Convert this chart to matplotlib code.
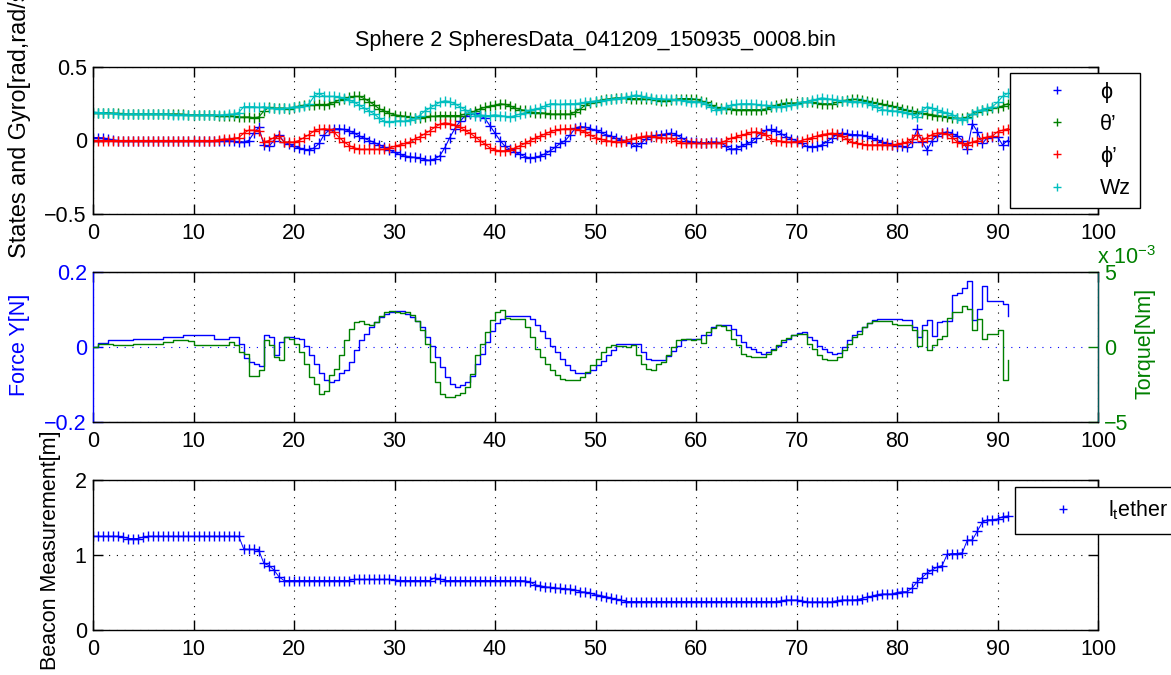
import numpy as np
import matplotlib
matplotlib.use('Agg')
import matplotlib.pyplot as plt
from matplotlib.lines import Line2D

plt.rcParams['font.family'] = ['Liberation Sans', 'DejaVu Sans']
plt.rcParams['mathtext.fontset'] = 'custom'
plt.rcParams['mathtext.rm'] = 'Liberation Sans'
plt.rcParams['mathtext.it'] = 'Liberation Sans'

#------------------------------------------------------------------ data
title = 'Sphere 2 SpheresData_041209_150935_0008.bin'
dt = 0.5  # sample period [s]

# states and gyro [rad, rad/s]
phi = [0.02,0.02,0.018,0.01,0.005,0,0,0,0,0,0,0,0,0,0,0,0,0,0,0,
       0,0,0,0,0,0,0,0,-0.005,-0.01,-0.01,0.0,0.05,0.09,-0.03,-0.04,0.0,0.04,-0.01,-0.025,
       -0.04,-0.05,-0.06,-0.065,-0.05,-0.02,0.04,0.07,0.08,0.08,0.075,0.065,0.05,0.03,0.015,0.0,-0.015,-0.03,-0.045,-0.065,
       -0.08,-0.095,-0.105,-0.11,-0.115,-0.12,-0.13,-0.135,-0.125,-0.105,-0.05,0.02,0.08,0.13,0.165,0.18,0.185,0.17,0.15,0.1,
       0.05,0.0,-0.04,-0.06,-0.08,-0.095,-0.11,-0.12,-0.115,-0.105,-0.09,-0.07,-0.045,-0.02,0.0,0.04,0.085,0.095,0.09,0.08,
       0.07,0.055,0.04,0.03,0.015,0.005,0.0,-0.02,-0.04,-0.02,0.01,0.025,0.035,0.04,0.045,0.05,0.04,0.02,0.0,-0.01,
       -0.01,-0.015,-0.015,-0.01,-0.01,-0.015,-0.04,-0.06,-0.055,-0.04,-0.025,-0.01,0.02,0.05,0.07,0.075,0.065,0.045,0.025,0.01,
       0.0,-0.02,-0.04,-0.045,-0.04,-0.03,-0.01,0.015,0.04,0.05,0.045,0.04,0.04,0.035,0.03,0.015,0.005,-0.01,-0.02,-0.03,
       -0.035,-0.04,-0.045,-0.01,0.075,-0.01,-0.065,0.0,0.03,0.05,0.06,0.045,0.03,0.0,-0.06,0.115,0.06,-0.02,0.02,0.026,
       0.026,-0.03,0.0]
theta_d = [0.185,0.185,0.19,0.19,0.185,0.185,0.18,0.18,0.18,0.18,0.18,0.18,0.18,0.18,0.18,0.18,0.18,0.18,0.178,0.175,
           0.175,0.173,0.173,0.173,0.173,0.17,0.17,0.17,0.165,0.16,0.16,0.16,0.155,0.16,0.2,0.225,0.22,0.22,0.22,0.215,
           0.225,0.235,0.24,0.24,0.24,0.245,0.24,0.25,0.26,0.275,0.285,0.295,0.3,0.3,0.285,0.265,0.24,0.215,0.2,0.185,
           0.175,0.17,0.165,0.16,0.155,0.155,0.16,0.165,0.165,0.17,0.17,0.17,0.17,0.17,0.18,0.19,0.2,0.215,0.225,0.235,
           0.24,0.25,0.245,0.235,0.22,0.21,0.205,0.195,0.19,0.19,0.185,0.18,0.18,0.18,0.18,0.18,0.195,0.215,0.24,0.255,
           0.265,0.275,0.28,0.285,0.29,0.29,0.29,0.285,0.285,0.285,0.28,0.28,0.275,0.27,0.27,0.275,0.28,0.285,0.285,0.285,
           0.28,0.27,0.26,0.24,0.225,0.22,0.215,0.215,0.21,0.21,0.21,0.21,0.21,0.21,0.215,0.225,0.24,0.25,0.255,0.255,
           0.255,0.26,0.26,0.26,0.255,0.25,0.25,0.25,0.26,0.27,0.275,0.28,0.28,0.275,0.27,0.26,0.255,0.245,0.24,0.235,
           0.225,0.215,0.205,0.2,0.19,0.185,0.18,0.175,0.17,0.165,0.16,0.155,0.15,0.15,0.16,0.18,0.195,0.205,0.21,0.22,
           0.225,0.235,0.25]
phi_d = [0,0,0,0,0,0,0,0,0,0,0,0,0,0,0,0,0,0,0,0,
         0,0,0,0,0,0.005,0.01,0.01,0.015,0.02,0.05,0.07,0.07,0.065,-0.01,0.0,0.02,0.03,-0.01,-0.01,
         -0.01,0.0,0.02,0.04,0.065,0.075,0.08,0.075,0.055,0.02,-0.01,-0.035,-0.05,-0.06,-0.06,-0.06,-0.06,-0.06,-0.06,-0.05,
         -0.04,-0.03,-0.02,-0.01,0.01,0.025,0.045,0.065,0.09,0.11,0.12,0.115,0.105,0.09,0.07,0.05,0.026,0.0,-0.025,-0.05,
         -0.065,-0.07,-0.07,-0.065,-0.05,-0.035,-0.02,0.0,0.015,0.03,0.045,0.06,0.07,0.075,0.08,0.08,0.075,0.07,0.055,0.035,
         0.02,0.01,0.0,-0.005,-0.01,-0.01,0.0,0.01,0.02,0.025,0.03,0.03,0.025,0.02,0.015,0.015,0.0,-0.015,-0.02,-0.02,
         -0.02,-0.02,-0.02,-0.02,-0.02,-0.015,0.0,0.015,0.025,0.035,0.045,0.055,0.06,0.05,0.035,0.01,0.0,-0.005,-0.01,-0.01,
         -0.01,0.0,0.01,0.02,0.03,0.04,0.045,0.05,0.045,0.03,0.01,-0.01,-0.02,-0.025,-0.03,-0.03,-0.03,-0.03,-0.03,-0.03,
         -0.025,-0.02,-0.01,0.01,0.04,0.0,0.02,0.04,0.05,0.05,0.045,0.02,-0.01,-0.02,-0.03,-0.01,0.0,0.015,0.025,0.03,
         0.06,0.07,0.08]
wz = [0.195,0.19,0.19,0.185,0.185,0.18,0.18,0.18,0.18,0.18,0.18,0.18,0.18,0.18,0.18,0.18,0.175,0.175,0.175,0.175,
      0.173,0.173,0.173,0.173,0.173,0.173,0.175,0.178,0.18,0.19,0.23,0.23,0.23,0.225,0.23,0.22,0.22,0.215,0.22,0.22,
      0.23,0.23,0.235,0.25,0.3,0.32,0.3,0.3,0.3,0.295,0.29,0.275,0.26,0.24,0.22,0.2,0.18,0.15,0.13,0.125,
      0.13,0.135,0.13,0.14,0.15,0.17,0.2,0.22,0.24,0.26,0.27,0.265,0.25,0.23,0.21,0.19,0.17,0.175,0.17,0.17,
      0.175,0.17,0.165,0.16,0.17,0.18,0.19,0.205,0.215,0.22,0.235,0.25,0.25,0.245,0.25,0.25,0.25,0.255,0.26,0.265,
      0.27,0.27,0.275,0.28,0.285,0.29,0.295,0.3,0.31,0.3,0.295,0.29,0.285,0.285,0.28,0.28,0.275,0.275,0.27,0.265,
      0.265,0.26,0.245,0.225,0.21,0.215,0.225,0.24,0.245,0.25,0.25,0.25,0.245,0.24,0.24,0.235,0.23,0.23,0.235,0.24,
      0.25,0.26,0.265,0.275,0.28,0.29,0.285,0.28,0.275,0.27,0.27,0.265,0.265,0.26,0.255,0.24,0.225,0.21,0.205,0.2,
      0.2,0.195,0.19,0.18,0.16,0.2,0.23,0.22,0.205,0.195,0.19,0.175,0.155,0.14,0.15,0.18,0.2,0.21,0.22,0.23,
      0.26,0.3,0.32]

# force Y [N] and torque [1e-3 Nm]
force = [0.0,0.011,0.011,0.02,0.02,0.02,0.02,0.02,0.022,0.022,0.022,0.022,0.022,0.022,0.027,0.027,0.027,0.027,0.031,0.031,
         0.031,0.031,0.031,0.031,0.022,0.022,0.022,0.028,0.026,0.009,-0.03,-0.04,-0.045,-0.05,0.031,0.027,-0.022,0.013,0.028,0.027,
         0.025,0.022,0.004,-0.022,-0.045,-0.07,-0.089,-0.093,-0.089,-0.07,-0.062,-0.04,-0.009,0.018,0.036,0.053,0.067,0.08,0.087,0.093,
         0.095,0.095,0.089,0.08,0.069,0.053,0.028,0.004,-0.027,-0.053,-0.08,-0.098,-0.107,-0.102,-0.093,-0.076,-0.044,-0.018,0.013,0.044,
         0.064,0.076,0.082,0.084,0.084,0.084,0.084,0.076,0.058,0.044,0.025,0.004,-0.013,-0.031,-0.049,-0.062,-0.069,-0.069,-0.069,-0.06,
         -0.049,-0.037,-0.022,-0.009,0.009,0.009,0.009,0.009,0.009,-0.013,-0.031,-0.034,-0.034,-0.034,-0.025,-0.011,0.004,0.018,0.022,0.022,
         0.022,0.031,0.031,0.053,0.058,0.058,0.058,0.049,0.031,0.013,0.0,-0.004,-0.013,-0.018,-0.013,-0.004,0.004,0.013,0.022,0.031,
         0.037,0.04,0.027,0.018,0.004,-0.004,-0.013,-0.018,-0.016,0.0,0.018,0.031,0.044,0.053,0.064,0.071,0.076,0.076,0.076,0.076,
         0.076,0.071,0.071,0.053,0.028,0.058,0.073,0.03,0.067,0.07,0.07,0.138,0.144,0.158,0.176,0.073,0.102,0.164,0.122,0.122,
         0.122,0.116,0.082]
torque = [0.0,0.22,0.22,0.18,0.11,0.11,0.11,0.11,0.18,0.18,0.18,0.18,0.18,0.18,0.33,0.33,0.44,0.44,0.44,0.4,
          0.11,0.11,0.11,0.11,0.11,0.11,0.15,0.33,0.11,-0.33,-0.44,-1.96,-1.9,-1.55,0.44,0.11,-0.67,-0.84,0.67,0.55,
          0.22,-0.33,-1.1,-2.0,-2.44,-3.1,-2.9,-1.84,-1.44,-0.56,0.44,1.22,1.67,1.73,1.56,1.44,1.67,2.04,2.33,2.4,
          2.36,2.27,2.33,2.11,1.73,1.11,0.22,-1.0,-2.33,-3.11,-3.33,-3.3,-3.2,-3.07,-2.67,-1.78,-0.56,0.22,1.0,1.78,
          2.33,2.5,1.96,1.89,1.89,1.89,1.33,0.67,-0.11,-0.67,-1.11,-1.56,-1.89,-2.11,-2.22,-2.22,-2.22,-2.0,-1.67,-1.22,
          -0.78,-0.33,0.0,0.11,0.05,0.05,0.0,0.11,-0.56,-1.11,-1.44,-1.56,-1.11,-1.0,-0.56,0.0,0.44,0.56,0.56,0.44,
          0.56,0.27,1.0,1.29,1.44,1.4,1.11,0.56,0.11,-0.44,-0.62,-0.67,-0.67,-0.67,-0.49,-0.18,0.11,0.44,0.62,0.78,
          0.89,0.89,0.22,-0.11,-0.56,-0.78,-0.89,-0.89,-0.67,-0.22,0.22,0.67,0.89,1.33,1.6,1.73,1.73,1.73,1.73,1.56,
          1.44,1.44,1.44,1.11,0.04,1.11,-0.22,0.11,0.56,0.71,1.96,2.33,2.33,2.71,2.56,1.11,1.89,0.56,0.89,0.89,
          1.11,-2.22,-0.89]

# beacon (tether length) [m]
tether = [1.25,1.25,1.25,1.25,1.25,1.25,1.24,1.22,1.22,1.22,1.24,1.25,1.25,1.25,1.25,1.25,1.25,1.25,1.25,1.25,
          1.25,1.25,1.25,1.25,1.25,1.25,1.25,1.25,1.25,1.25,1.08,1.075,1.075,1.06,0.89,0.86,0.8,0.71,0.66,0.66,
          0.66,0.66,0.66,0.66,0.66,0.66,0.66,0.66,0.66,0.66,0.66,0.66,0.675,0.675,0.675,0.675,0.675,0.675,0.675,0.675,
          0.665,0.66,0.66,0.66,0.66,0.66,0.66,0.66,0.695,0.68,0.66,0.66,0.66,0.66,0.66,0.66,0.66,0.66,0.66,0.66,
          0.66,0.66,0.66,0.66,0.66,0.66,0.655,0.64,0.6,0.59,0.575,0.57,0.56,0.555,0.55,0.545,0.535,0.51,0.505,0.49,
          0.47,0.46,0.445,0.43,0.41,0.4,0.38,0.38,0.38,0.38,0.38,0.38,0.38,0.38,0.38,0.38,0.38,0.38,0.38,0.38,
          0.38,0.38,0.38,0.38,0.38,0.38,0.38,0.38,0.38,0.38,0.38,0.38,0.38,0.38,0.38,0.38,0.38,0.39,0.4,0.4,
          0.4,0.39,0.375,0.375,0.375,0.375,0.375,0.375,0.39,0.4,0.4,0.4,0.405,0.42,0.44,0.45,0.47,0.48,0.48,0.48,
          0.5,0.51,0.51,0.56,0.64,0.7,0.76,0.8,0.84,0.86,1.01,1.02,1.02,1.03,1.2,1.2,1.32,1.44,1.47,1.47,
          1.48,1.51,1.52]

state_labels = ['\u03d5', '\u03b8\u2019', '\u03d5\u2019', 'Wz']
xticks = [0, 10, 20, 30, 40, 50, 60, 70, 80, 90, 100]
#-------------------------------------------------------------------------------

BLUE, GREEN, RED, CYAN = (0, 0, 1), (0, 0.5, 0), (1, 0, 0), (0, 0.75, 0.75)
FS = 15.5
W, H = 1171.0, 675.0

def tt(y):
    return np.arange(len(y)) * dt

def box(l, t, r, b):
    return [l / W, 1 - b / H, (r - l) / W, (b - t) / H]

def matlabify(ax, ygrid=True):
    ax.set_xlim(0, 100)
    ax.set_xticks(xticks)
    ax.tick_params(direction='in', top=True, right=True, length=7, width=1,
                   labelsize=FS, pad=4.5)
    ax.tick_params(axis='x', pad=6.5)
    for s in ax.spines.values():
        s.set_linewidth(1.0)
    ax.xaxis.grid(True, color='k', linestyle=(0, (1, 6)), linewidth=0.8)
    ax.yaxis.grid(ygrid, color='k', linestyle=(0, (1, 6)), linewidth=0.8)

fig = plt.figure(figsize=(11.71, 6.75), dpi=100)

# ---- top: states and gyro
ax1 = fig.add_axes(box(93, 67, 1098, 214))
for y, c in zip([phi, theta_d, phi_d, wz], [BLUE, GREEN, RED, CYAN]):
    ax1.plot(tt(y), y, '-+', color=c, lw=0.8, ms=7, mew=1)
matlabify(ax1)
ax1.set_ylim(-0.5, 0.5)
ax1.set_yticks([-0.5, 0, 0.5])
ax1.set_yticklabels(['\u22120.5', '0', '0.5'])
ax1.set_title(title, fontsize=FS, pad=15)
handles = [Line2D([], [], ls='none', marker='+', ms=6, mew=1, color=c)
           for c in [BLUE, GREEN, RED, CYAN]]
leg = ax1.legend(handles, state_labels, loc='upper left', bbox_to_anchor=(0.912, 0.959),
                 borderaxespad=0, fontsize=FS, handlelength=3.6, handletextpad=0.2,
                 borderpad=0.4, labelspacing=0.52, fancybox=False, framealpha=1,
                 edgecolor='k')
leg.get_frame().set_linewidth(1.0)
fig.text(20 / W, 1 - 258 / H, 'States and Gyro[rad,rad/s]', rotation=90,
         ha='center', va='bottom', fontsize=16.8)

# ---- middle: force and torque
ax2 = fig.add_axes(box(93, 272, 1098, 422))
ax2.plot(tt(force), force, color=BLUE, lw=1, drawstyle='steps-post')
matlabify(ax2, ygrid=False)
ax2.yaxis.grid(True, color=BLUE, linestyle=(0, (1, 6)), linewidth=0.8)
ax2.tick_params(axis='y', right=False, colors=BLUE)
ax2.set_ylim(-0.2, 0.2)
ax2.set_yticks([-0.2, 0, 0.2])
ax2.set_yticklabels(['\u22120.2', '0', '0.2'])
ax2.spines['left'].set_color(BLUE)
ax2r = ax2.twinx()
ax2r.plot(tt(torque), torque, color=GREEN, lw=1, drawstyle='steps-post')
ax2r.set_ylim(-5, 5)
ax2r.set_yticks([-5, 0, 5])
ax2r.set_yticklabels(['\u22125', '0', '5'])
ax2r.tick_params(axis='y', direction='in', length=7, width=1, colors=GREEN,
                 labelsize=FS, pad=4.5)
ax2r.spines['right'].set_color((0, 0.35, 0.35))
ax2r.spines['left'].set_visible(False)
fig.text(20 / W, 1 - 345 / H, 'Force Y[N]', rotation=90, ha='center', va='center',
         fontsize=FS, color=BLUE)
fig.text(1145 / W, 1 - 343 / H, 'Torque[Nm]', rotation=90, ha='center', va='center',
         fontsize=FS, color=GREEN)
fig.text(1097 / W, 1 - 264 / H, r'x 10$^{-3}$', ha='left', va='baseline',
         fontsize=FS, color=GREEN)

# ---- bottom: beacon measurement
ax3 = fig.add_axes(box(93, 480, 1098, 630))
ax3.plot(tt(tether), tether, '-+', color=BLUE, lw=0.7, ms=7, mew=1)
matlabify(ax3)
ax3.set_ylim(0, 2)
ax3.set_yticks([0, 1, 2])
ax3.set_yticklabels(['0', '1', '2'])
leg3 = ax3.legend([Line2D([], [], ls='none', marker='+', ms=6, mew=1, color=BLUE)],
                  [r'l$_\mathrm{t}$ether'], loc='upper left', bbox_to_anchor=(0.9174, 0.953),
                  borderaxespad=0, fontsize=FS, handlelength=3.4, handletextpad=0.35,
                  borderpad=0.55, fancybox=False, framealpha=1, edgecolor='k')
leg3.get_frame().set_linewidth(1.0)
fig.text(51 / W, 1 - 550 / H, 'Beacon Measurement[m]', rotation=90, ha='center',
         va='center', fontsize=FS)

fig.savefig('out.png', dpi=100)
